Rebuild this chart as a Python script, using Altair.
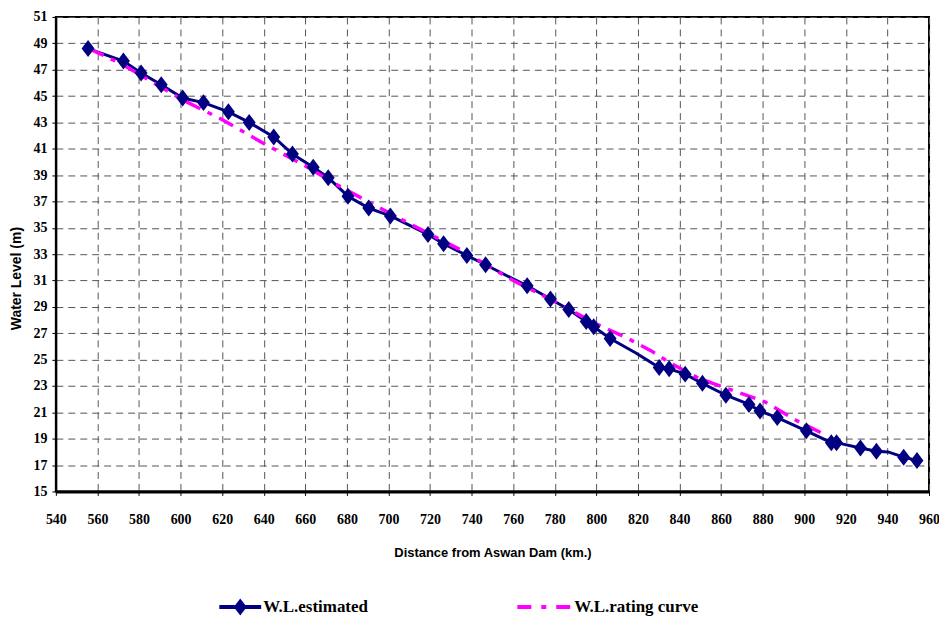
import altair as alt
import pandas as pd

# W.L. estimated (solid navy with diamonds); m = 1 where a marker is drawn
est_x = [555.5, 572.5, 581, 590.7, 601, 611, 623, 633, 644.8, 653.8, 663.8, 671, 680.5,
         690.5, 700.9, 719, 726.5, 737.7, 746.7, 759, 766.7, 777.9, 786.7, 795.1, 798.7,
         806.6, 819, 830.2, 835, 842.7, 851, 862.3, 873.4, 878.7, 887, 901, 913, 915.5,
         927, 934.7, 940.3, 947.8, 954.2]
est_y = [48.6, 47.65, 46.75, 45.85, 44.85, 44.5, 43.8, 43.0, 41.9, 40.6, 39.6, 38.8, 37.4,
         36.5, 35.9, 34.5, 33.8, 32.9, 32.2, 31.2, 30.6, 29.6, 28.8, 27.9, 27.5,
         26.6, 25.5, 24.4, 24.3, 23.9, 23.2, 22.3, 21.6, 21.1, 20.6, 19.6, 18.7, 18.7,
         18.3, 18.05, 18.0, 17.6, 17.35]
est_m = [1, 1, 1, 1, 1, 1, 1, 1, 1, 1, 1, 1, 1,
         1, 1, 1, 1, 1, 1, 0, 1, 1, 1, 1, 1,
         1, 0, 1, 1, 1, 1, 1, 1, 1, 1, 1, 1, 1,
         1, 1, 0, 1, 1]

# W.L. rating curve (dashed magenta)
rat_x = [556, 572, 601, 619, 640, 660, 676, 690, 714, 735, 760, 780, 800, 814, 826, 836,
         849, 856, 881, 896, 910]
rat_y = [48.6, 47.4, 44.7, 43.3, 41.4, 39.7, 38.2, 37.0, 35.0, 33.3, 31.0, 29.4, 27.7, 26.7,
         25.7, 24.7, 23.6, 23.2, 21.8, 20.4, 19.3]

x_ticks = list(range(540, 961, 20))
y_ticks = list(range(15, 52, 2))
legend_labels = ["W.L.estimated", "W.L.rating curve"]

NAVY = "#000080"
MAG = "#FF00FF"
DIAMOND = "M-0.76,0L0,-1L0.76,0L0,1Z"

est = pd.DataFrame({"x": est_x, "y": est_y, "m": est_m})
rat = pd.DataFrame({"x": rat_x, "y": rat_y})
one = pd.DataFrame({"a": [0]})

xs = alt.Scale(domain=[540, 960], nice=False, zero=False)
ys = alt.Scale(domain=[15, 51], nice=False, zero=False)

xaxis = alt.Axis(values=x_ticks, title="Distance from Aswan Dam (km.)", grid=True,
                 labelFont="Liberation Serif", labelFontWeight="bold", labelFontSize=14,
                 labelColor="black", labelPadding=17, tickSize=4, tickColor="black",
                 titleFont="Liberation Sans", titleFontWeight="bold", titleFontSize=13,
                 titleColor="black", titlePadding=20, domainColor="black", domainWidth=3,
                 labelFlush=False)
yaxis = alt.Axis(values=y_ticks, title="Water Level (m)", grid=True,
                 labelFont="Liberation Serif", labelFontWeight="bold", labelFontSize=14,
                 labelColor="black", labelPadding=5, tickSize=4, tickColor="black",
                 titleFont="Liberation Sans", titleFontWeight="bold", titleFontSize=14,
                 titleColor="black", titleX=-39, titleY=262, titleBaseline="middle",
                 domainColor="black", domainWidth=2, labelFlush=False)

X = alt.X("x:Q", scale=xs, axis=xaxis)
Y = alt.Y("y:Q", scale=ys, axis=yaxis)

est_line = alt.Chart(est).mark_line(color=NAVY, strokeWidth=3).encode(x=X, y=Y)
rat_line = alt.Chart(rat).mark_line(color=MAG, strokeWidth=3.5,
                                    strokeDash=[16, 8, 5, 8]).encode(x=X, y=Y)
est_pts = alt.Chart(est).transform_filter("datum.m == 1").mark_point(
    shape=DIAMOND, size=290, filled=True, color=NAVY, opacity=1).encode(x=X, y=Y)

# legend below the plot
LY = 592
leg1_line = alt.Chart(one).mark_rule(color=NAVY, strokeWidth=4).encode(
    x=alt.value(164), x2=alt.value(206), y=alt.value(LY))
leg1_pt = alt.Chart(one).mark_point(shape=DIAMOND, size=290, filled=True, color=NAVY,
                                     opacity=1).encode(x=alt.value(185), y=alt.value(LY))
leg1_txt = alt.Chart(pd.DataFrame({"t": [legend_labels[0]]})).mark_text(
    align="left", baseline="middle", font="Liberation Serif", fontWeight="bold",
    fontSize=17, color="black").encode(text="t:N", x=alt.value(208), y=alt.value(LY))
leg2_line = alt.Chart(one).mark_rule(color=MAG, strokeWidth=4, strokeDash=[14, 10, 5, 10]).encode(
    x=alt.value(463), x2=alt.value(517), y=alt.value(LY))
leg2_txt = alt.Chart(pd.DataFrame({"t": [legend_labels[1]]})).mark_text(
    align="left", baseline="middle", font="Liberation Serif", fontWeight="bold",
    fontSize=17, color="black").encode(text="t:N", x=alt.value(520), y=alt.value(LY))

chart = alt.layer(est_line, rat_line, est_pts, leg1_line, leg1_pt, leg1_txt,
                  leg2_line, leg2_txt).properties(
    width=876, height=476,
    background="white",
    autosize=alt.AutoSizeParams(type="none"),
    padding={"left": 48, "top": 8, "right": 10, "bottom": 126},
).configure_view(stroke="black", strokeWidth=2).configure_axis(
    gridColor="#555555", gridDash=[7, 5], gridWidth=1, gridOpacity=1
)

chart.save("out.html", embed_options={"renderer": "svg", "actions": False})
